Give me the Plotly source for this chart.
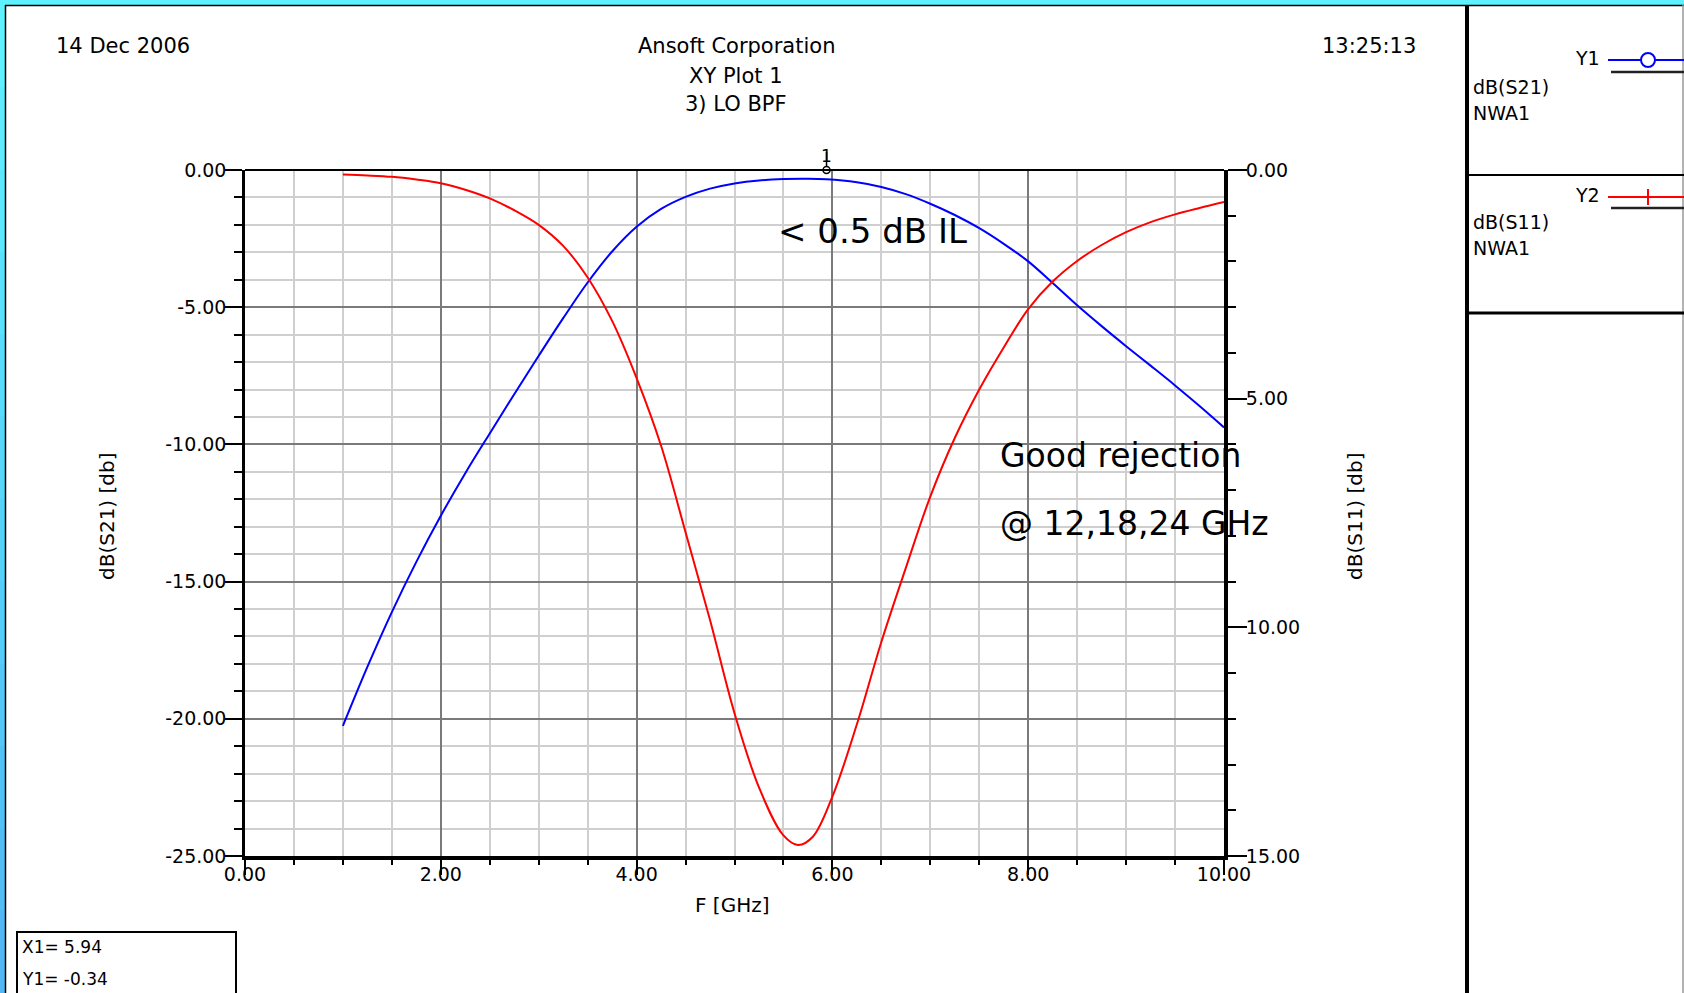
import plotly.graph_objects as go

# ---------------- data ----------------
freq_s21 = [1.0, 1.25, 1.5, 1.75, 2.0, 2.25, 2.5, 2.75, 3.0, 3.25, 3.5, 3.75, 4.0, 4.25,
            4.5, 4.75, 5.0, 5.25, 5.5, 5.75, 5.94, 6.25, 6.5, 6.75, 7.0, 7.25, 7.5, 7.75,
            8.0, 8.25, 8.5, 8.75, 9.0, 9.25, 9.5, 9.75, 10.0]
s21_db = [-20.26, -18.11, -16.11, -14.28, -12.6, -11.05, -9.6, -8.17, -6.77, -5.4, -4.1,
          -2.97, -2.07, -1.42, -0.98, -0.68, -0.49, -0.38, -0.33, -0.32, -0.34, -0.45, -0.62,
          -0.88, -1.23, -1.64, -2.12, -2.69, -3.33, -4.12, -4.93, -5.69, -6.42, -7.13, -7.85,
          -8.6, -9.38]

freq_s11 = [1.0, 1.25, 1.5, 1.75, 2.0, 2.25, 2.5, 2.75, 3.0, 3.25, 3.5, 3.75, 4.0, 4.25,
            4.5, 4.75, 5.0, 5.25, 5.5, 5.65, 5.8, 6.0, 6.25, 6.5, 6.75, 7.0, 7.25, 7.5, 7.75,
            8.0, 8.25, 8.5, 8.75, 9.0, 9.25, 9.5, 9.75, 10.0]
s11_db = [-0.10, -0.12, -0.15, -0.21, -0.29, -0.43, -0.62, -0.88, -1.20, -1.66, -2.35,
          -3.30, -4.55, -6.03, -7.92, -9.84, -11.88, -13.5, -14.55, -14.76, -14.58, -13.7,
          -12.12, -10.32, -8.70, -7.14, -5.86, -4.80, -3.88, -3.04, -2.44, -1.99, -1.64,
          -1.36, -1.14, -0.97, -0.83, -0.70]

marker_x = [5.94]
marker_y_top = [0.0]

x_tickvals = [0, 2, 4, 6, 8, 10]
x_ticktext = ["0.00", "2.00", "4.00", "6.00", "8.00", "10.00"]
y1_tickvals = [0, -5, -10, -15, -20, -25]
y1_ticktext = ["0.00", "-5.00", "-10.00", "-15.00", "-20.00", "-25.00"]
y2_tickvals = [0, -5, -10, -15]
y2_ticktext = ["0.00", "5.00", "10.00", "15.00"]

# ---------------- geometry helpers (pixel -> paper) ----------------
W, H = 1684, 993
L, R, T, B = 245, 1224, 170, 856


def px(x):
    return (x - L) / (R - L)


def py(y):
    return (B - y) / (B - T)


FONT = "DejaVu Sans"

fig = go.Figure()

fig.add_trace(go.Scatter(x=freq_s21, y=s21_db, mode="lines", name="dB(S21)",
                         line=dict(color="#0000FF", width=2, shape="spline", smoothing=1.0),
                         yaxis="y"))
fig.add_trace(go.Scatter(x=freq_s11, y=s11_db, mode="lines", name="dB(S11)",
                         line=dict(color="#FF0000", width=2, shape="spline", smoothing=1.0),
                         yaxis="y2"))
fig.add_trace(go.Scatter(x=marker_x, y=marker_y_top, mode="markers", cliponaxis=False,
                         marker=dict(symbol="circle-open", size=7, color="black",
                                     line=dict(width=1.5, color="black")),
                         yaxis="y", showlegend=False))

major_grid = "#7a7a7a"
minor_grid = "#cfcfcf"
tickfont = dict(family=FONT, size=19, color="black")

fig.update_layout(
    width=W, height=H,
    margin=dict(l=L, r=W - R, t=T, b=H - B, pad=0),
    paper_bgcolor="white", plot_bgcolor="white",
    showlegend=False,
    xaxis=dict(range=[0, 10], tickvals=x_tickvals, ticktext=x_ticktext,
               ticks="outside", ticklen=15, tickwidth=1.5, tickcolor="black",
               ticklabelstandoff=-17,
               showline=True, linewidth=4, linecolor="black",
               showgrid=True, gridcolor=major_grid, gridwidth=1.5,
               zeroline=False, tickfont=tickfont,
               minor=dict(dtick=0.5, tick0=0, ticks="outside", ticklen=5, tickwidth=1.5,
                          tickcolor="black", showgrid=True, gridcolor=minor_grid,
                          gridwidth=2)),
    yaxis=dict(range=[-25, 0], tickvals=y1_tickvals, ticktext=y1_ticktext,
               ticks="outside", ticklen=17, tickwidth=1.5, tickcolor="black",
               ticklabelstandoff=-5,
               showline=True, linewidth=2.5, linecolor="black",
               showgrid=True, gridcolor=major_grid, gridwidth=1.5,
               zeroline=False, tickfont=tickfont,
               minor=dict(dtick=1, tick0=0, ticks="outside", ticklen=8, tickwidth=1.5,
                          tickcolor="black", showgrid=True, gridcolor=minor_grid,
                          gridwidth=2)),
    yaxis2=dict(range=[-15, 0], overlaying="y", side="right",
                tickvals=y2_tickvals, ticktext=y2_ticktext,
                ticks="outside", ticklen=19, tickwidth=1.5, tickcolor="black",
                ticklabelstandoff=-5,
                showline=True, linewidth=4, linecolor="black",
                showgrid=False, zeroline=False, tickfont=tickfont,
                minor=dict(dtick=1, tick0=0, ticks="outside", ticklen=8, tickwidth=1.5,
                           tickcolor="black", showgrid=False)),
)

shapes = []
# top border of plot
shapes.append(dict(type="line", xref="paper", yref="paper", x0=0, x1=1, y0=1, y1=1,
                   line=dict(color="black", width=2)))
# cyan frame
shapes.append(dict(type="rect", xref="paper", yref="paper", x0=px(0), x1=px(W), y0=py(0),
                   y1=py(5), fillcolor="#5ef2ff", line=dict(width=0), layer="above"))
n = 12
for i in range(n):
    y0 = 5 + (H - 5) * i / n
    y1 = 5 + (H - 5) * (i + 1) / n
    t = i / (n - 1)
    r = int(0x5e + (0x4f - 0x5e) * t)
    g = int(0xf2 + (0xb8 - 0xf2) * t)
    b = int(0xff + (0xf5 - 0xff) * t)
    shapes.append(dict(type="rect", xref="paper", yref="paper", x0=px(0), x1=px(5),
                       y0=py(y0), y1=py(y1 + 1), fillcolor=f"rgb({r},{g},{b})",
                       line=dict(width=0), layer="above"))
shapes.append(dict(type="rect", xref="paper", yref="paper", x0=px(0), x1=px(5), y0=py(0),
                   y1=py(5), fillcolor="#5ef2ff", line=dict(width=0), layer="above"))
# inner black frame lines
shapes.append(dict(type="line", xref="paper", yref="paper", x0=px(5), x1=px(W), y0=py(5.5),
                   y1=py(5.5), line=dict(color="black", width=1.5)))
shapes.append(dict(type="line", xref="paper", yref="paper", x0=px(5.5), x1=px(5.5), y0=py(5),
                   y1=py(H), line=dict(color="black", width=1.5)))
shapes.append(dict(type="line", xref="paper", yref="paper", x0=px(W - 1), x1=px(W - 1),
                   y0=py(5), y1=py(H), line=dict(color="#9a9a9a", width=1.5)))
# legend panel
shapes.append(dict(type="line", xref="paper", yref="paper", x0=px(1467), x1=px(1467),
                   y0=py(5), y1=py(H), line=dict(color="black", width=4)))
shapes.append(dict(type="line", xref="paper", yref="paper", x0=px(1467), x1=px(W),
                   y0=py(175), y1=py(175), line=dict(color="black", width=2)))
shapes.append(dict(type="line", xref="paper", yref="paper", x0=px(1467), x1=px(W),
                   y0=py(313), y1=py(313), line=dict(color="black", width=3)))
# legend Y1 sample
shapes.append(dict(type="line", xref="paper", yref="paper", x0=px(1608), x1=px(W),
                   y0=py(60), y1=py(60), line=dict(color="#0000FF", width=2)))
shapes.append(dict(type="circle", xref="paper", yref="paper", x0=px(1641), x1=px(1655),
                   y0=py(53), y1=py(67), fillcolor="white", line=dict(color="#0000FF", width=2)))
shapes.append(dict(type="line", xref="paper", yref="paper", x0=px(1611), x1=px(W),
                   y0=py(72), y1=py(72), line=dict(color="#222222", width=2.5)))
# legend Y2 sample
shapes.append(dict(type="line", xref="paper", yref="paper", x0=px(1608), x1=px(W),
                   y0=py(197), y1=py(197), line=dict(color="#FF0000", width=2)))
shapes.append(dict(type="line", xref="paper", yref="paper", x0=px(1648), x1=px(1648),
                   y0=py(189), y1=py(205), line=dict(color="#FF0000", width=2)))
shapes.append(dict(type="line", xref="paper", yref="paper", x0=px(1611), x1=px(W),
                   y0=py(208), y1=py(208), line=dict(color="#222222", width=2.5)))
# marker readout box
shapes.append(dict(type="rect", xref="paper", yref="paper", x0=px(17), x1=px(236),
                   y0=py(932), y1=py(H + 5), line=dict(color="black", width=2),
                   fillcolor="white"))
# marker line to label
shapes.append(dict(type="line", xref="x", yref="paper", x0=5.94, x1=5.94,
                   y0=py(166), y1=py(152), line=dict(color="black", width=1.5)))
fig.update_layout(shapes=shapes)

ann = []


def text(x, y, s, size=17, xanchor="left", yanchor="middle", angle=0, family=FONT,
         color="black"):
    ann.append(dict(xref="paper", yref="paper", x=px(x), y=py(y), text=s,
                    showarrow=False, xanchor=xanchor, yanchor=yanchor, textangle=angle,
                    font=dict(family=family, size=size, color=color)))


# header
text(54, 46, "14 Dec 2006", size=21)
text(736, 46, "Ansoft Corporation", size=21, xanchor="center")
text(736, 76, "XY Plot 1", size=21, xanchor="center")
text(736, 104, "3) LO BPF", size=21, xanchor="center")
text(1418, 46, "13:25:13", size=21, xanchor="right")
# axis titles
text(107, 516, "dB(S21) [db]", size=20, xanchor="center", angle=-90)
text(1355, 516, "dB(S11) [db]", size=20, xanchor="center", angle=-90)
text(732, 905, "F [GHz]", size=20, xanchor="center")
# marker label
text(826, 156, "1", size=17, xanchor="center")
# legend texts
text(1602, 58, "Y1", size=19, xanchor="right")
text(1471, 87, "dB(S21)", size=19)
text(1471, 113, "NWA1", size=19)
text(1602, 195, "Y2", size=19, xanchor="right")
text(1471, 222, "dB(S11)", size=19)
text(1471, 248, "NWA1", size=19)
# readout box
text(20, 947, "X1= 5.94", size=17)
text(20, 979, "Y1= -0.34", size=17)
# annotations
text(776, 231, "&lt; 0.5 dB IL", size=34)
text(998, 455, "Good rejection", size=33)
text(998, 523, "@ 12,18,24 GHz", size=33)

fig.update_layout(annotations=ann)

fig.write_html("out.html",
               config={"displayModeBar": False},
               post_script="document.body.style.margin='0';"
                           "document.body.style.overflow='hidden';")
